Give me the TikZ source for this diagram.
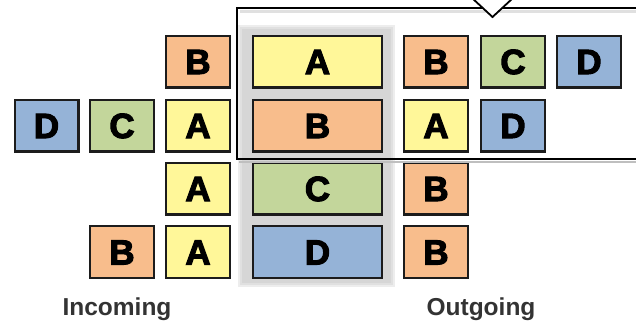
\documentclass[tikz,border=0pt]{standalone}
\usepackage{fontspec}
\setmainfont{Liberation Sans}
\newfontfamily\boxfont[FakeBold=3]{Liberation Sans Bold}
\definecolor{cA}{HTML}{FFF799}
\definecolor{cB}{HTML}{F8BD8C}
\definecolor{cC}{HTML}{C3D69B}
\definecolor{cD}{HTML}{95B3D7}
\definecolor{edge}{HTML}{1C1C1C}
\definecolor{lbl}{HTML}{333333}
\tikzset{
  cell/.style={draw=edge, line width=2.4pt, minimum width=63.6pt, minimum height=51.6pt,
    inner sep=0pt, text height=25pt, text depth=0pt, yshift=-1.5pt,
    font=\boxfont\fontsize{35}{35}\selectfont},
  wide/.style={cell, minimum width=128.6pt},
  ca/.style={fill=cA}, cb/.style={fill=cB}, cc/.style={fill=cC}, cd/.style={fill=cD},
  lab/.style={anchor=base, text=lbl, inner sep=0pt, font=\bfseries\fontsize{24.5}{24.5}\selectfont},
}
\begin{document}
\begin{tikzpicture}[x=1pt,y=-1pt]
\useasboundingbox (0,0) rectangle (636,322);
% gray panel behind central column
\fill[black!7] (238,25) rectangle (395,287);
\fill[black!12] (240,27) rectangle (393,285);
\fill[black!16] (242,29) rectangle (391,283);
% incoming
\node[cell,cb] (i1) at (198,60) {B};
\node[cell,cd] (i2a) at (46.5,124) {D};
\node[cell,cc] (i2b) at (122,124) {C};
\node[cell,ca] (i2c) at (198,124) {A};
\node[cell,ca] (i3) at (198,187) {A};
\node[cell,cb] (i4a) at (122,250.5) {B};
\node[cell,ca] (i4b) at (198,250.5) {A};
% central
\node[wide,ca] (m1) at (317.5,60) {A};
\node[wide,cb] (m2) at (317.5,124) {B};
\node[wide,cc] (m3) at (317.5,187) {C};
\node[wide,cd] (m4) at (317.5,250.5) {D};
% outgoing
\node[cell,cb] (o1a) at (436,60) {B};
\node[cell,cc] (o1b) at (513,60) {C};
\node[cell,cd] (o1c) at (589,60) {D};
\node[cell,ca] (o2a) at (436,124) {A};
\node[cell,cd] (o2b) at (513,124) {D};
\node[cell,cb] (o3) at (436,187) {B};
\node[cell,cb] (o4) at (436,250.5) {B};
% callout
\draw[black!25, line width=2pt] (239,161.5) -- (640,161.5);
\draw[black!12, line width=3pt] (240,11.5) -- (640,11.5);
\draw[black, line width=1.8pt] (640,8) -- (237,8) -- (237,159) -- (640,159);
\fill[white] (472,-2) -- (492.5,17) -- (513,-2) -- cycle;
\draw[black, line width=1.8pt, line join=miter] (472,-2) -- (492.5,17) -- (513,-2);
% labels
\node[lab] (lin) at (117,315) {Incoming};
\node[lab] (lout) at (481,315) {Outgoing};
\end{tikzpicture}
\end{document}
